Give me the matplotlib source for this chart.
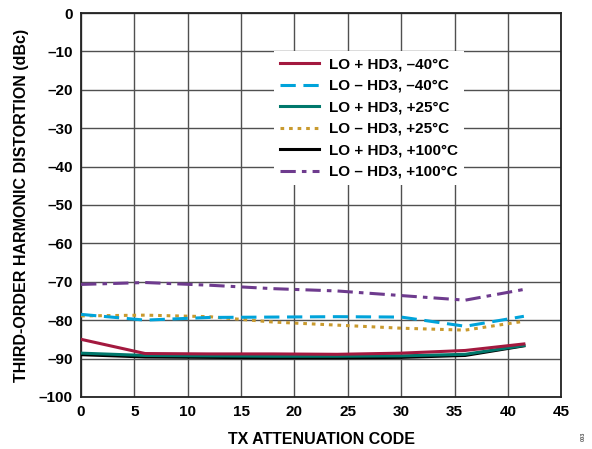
import matplotlib
matplotlib.use("Agg")
import matplotlib.pyplot as plt

plt.rcParams['font.family'] = ['Liberation Sans', 'DejaVu Sans']
plt.rcParams['font.weight'] = 'bold'

tx_code = [0, 6, 12, 18, 24, 30, 36, 41.5]

lo_plus_m40 = [-85.0, -88.7, -88.8, -88.8, -88.9, -88.6, -87.9, -86.2]
lo_minus_m40 = [-78.5, -80.0, -79.3, -79.2, -79.1, -79.2, -81.6, -79.0]
lo_plus_25 = [-88.6, -89.2, -89.3, -89.4, -89.4, -89.3, -88.9, -86.6]
lo_minus_25 = [-78.9, -78.7, -79.1, -80.5, -81.3, -82.1, -82.6, -80.3]
lo_plus_100 = [-89.0, -89.6, -89.7, -89.8, -89.8, -89.7, -89.2, -86.7]
lo_minus_100 = [-70.7, -70.2, -70.9, -71.8, -72.4, -73.6, -74.8, -72.0]

labels = ["LO + HD3, \u201340\u00b0C", "LO \u2013 HD3, \u201340\u00b0C",
          "LO + HD3, +25\u00b0C", "LO \u2013 HD3, +25\u00b0C",
          "LO + HD3, +100\u00b0C", "LO \u2013 HD3, +100\u00b0C"]

fig = plt.figure(figsize=(5.92, 4.49), dpi=100)
ax = fig.add_axes([0.137, 0.116, 0.811, 0.855])

ax.plot(tx_code, lo_plus_m40, color='#A3193F', lw=2.2, label=labels[0], zorder=5)
ax.plot(tx_code, lo_minus_m40, color='#00A3DA', lw=2.2, ls=(0, (5, 2.5)), label=labels[1], zorder=4)
ax.plot(tx_code, lo_plus_25, color='#00786C', lw=2.2, label=labels[2], zorder=4)
ax.plot(tx_code, lo_minus_25, color='#C99A2E', lw=2.2, ls=(0, (1.2, 1.6)), label=labels[3], zorder=3)
ax.plot(tx_code, lo_plus_100, color='#000000', lw=2.2, label=labels[4], zorder=3)
ax.plot(tx_code, lo_minus_100, color='#6E3B8E', lw=2.2, ls=(0, (5, 2, 1.5, 2)), label=labels[5], zorder=3)

ax.set_xlim(0, 45)
ax.set_ylim(-100, 0)
ax.set_xticks(range(0, 46, 5))
ax.set_yticks(range(-100, 1, 10))
ax.set_yticklabels([str(v).replace('-', '\u2013') for v in range(-100, 1, 10)])
ax.grid(True, color='#505050', lw=1.0)
ax.tick_params(length=0, labelsize=11, pad=6)
for s in ax.spines.values():
    s.set_linewidth(1.3)
    s.set_color('#222222')

ax.set_xlabel("TX ATTENUATION CODE", fontsize=11.5, fontweight='bold', labelpad=9)
ax.set_ylabel("THIRD-ORDER HARMONIC DISTORTION (dBc)", fontsize=11.5, fontweight='bold', labelpad=7)

leg = ax.legend(loc='upper left', bbox_to_anchor=(0.385, 0.92), frameon=True, fancybox=False,
                edgecolor='none', facecolor='white', framealpha=1, fontsize=11,
                handlelength=2.6, handletextpad=0.6, labelspacing=0.49, borderpad=0.4)
for t in leg.get_texts():
    t.set_fontweight('bold')

fig.text(0.985, 0.02, "003", rotation=90, fontsize=4, color='#555555', ha='center')

fig.savefig("out.png", dpi=100)
